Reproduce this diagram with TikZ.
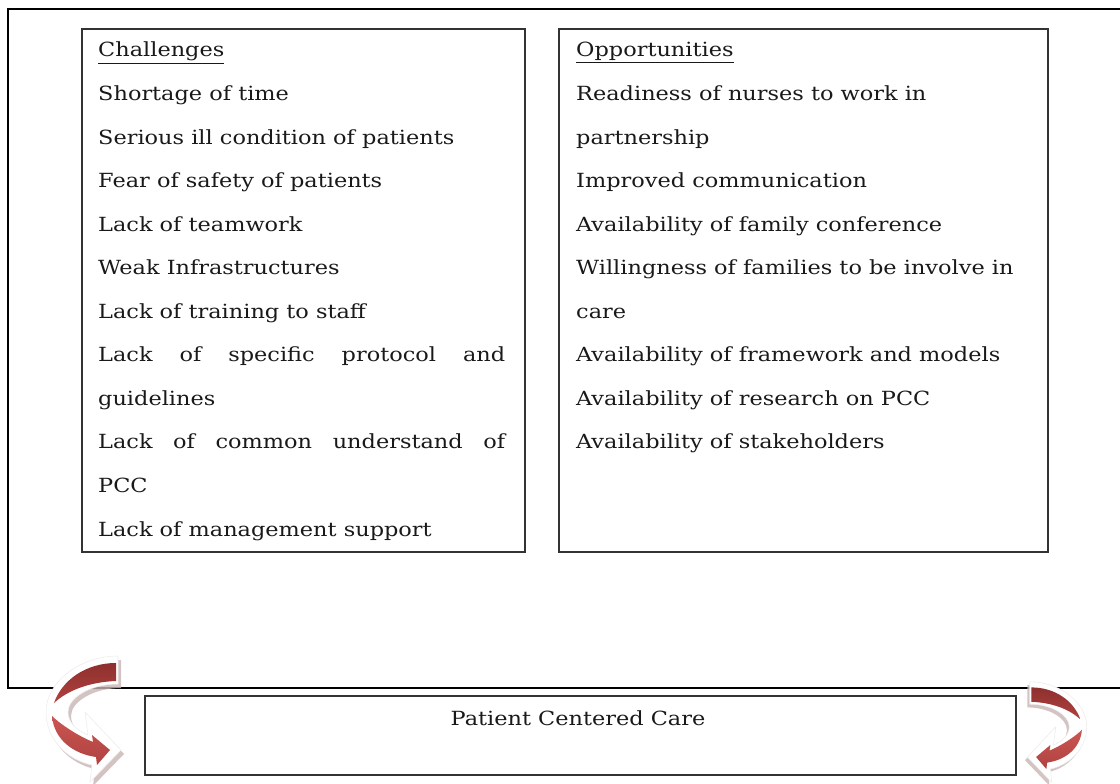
\documentclass[tikz,border=0pt]{standalone}
\usepackage{fontspec}
\setmainfont{DejaVu Serif}[FakeStretch=1.15]
\definecolor{deepred}{HTML}{8E302E}
\definecolor{midred}{HTML}{B0423F}
\definecolor{brightred}{HTML}{CA5653}
\definecolor{shade}{HTML}{C9B4B4}
\begin{document}
\begin{tikzpicture}[x=1pt,y=-1pt,
  frame/.style={draw=black, line width=1.4pt},
  listbox/.style={draw=black!80, line width=1.5pt, inner sep=0pt},
  item/.style={anchor=base west, inner sep=0pt, text=black!90,
    font=\fontsize{19.5}{23}\selectfont},
  shadowfill/.style={fill=shade, opacity=0.8},
  bodyfill/.style={fill=white, draw=white!93!black, line width=0.6pt, line join=round},
  upperband/.style={top color=deepred, bottom color=midred},
  lowerband/.style={top color=brightred, bottom color=midred}
]
\useasboundingbox (0,0) rectangle (1120,784);

% open outer frame, running off the right edge
\draw[frame] (1120,9) -- (8,9) -- (8,688) -- (1120,688);

% the two list boxes and the bottom box
\node[listbox, minimum width=443pt, minimum height=523pt] (chalbox) at (303.5,290.5) {};
\node[listbox, minimum width=489pt, minimum height=523pt] (oppbox) at (803.5,290.5) {};
\node[listbox, minimum width=871pt, minimum height=79pt] (pccbox) at (580.5,735.5) {};
\node[item, anchor=base] (pcc) at (578,725) {Patient Centered Care};

% challenges
\def\lh{43.55}
\node[item] (c0) at (98,57) {\underline{Challenges}};
\node[item] (c1) at (98,57+1*\lh) {Shortage of time};
\node[item] (c2) at (98,57+2*\lh) {Serious ill condition of patients};
\node[item] (c3) at (98,57+3*\lh) {Fear of safety of patients};
\node[item] (c4) at (98,57+4*\lh) {Lack of teamwork};
\node[item] (c5) at (98,57+5*\lh) {Weak Infrastructures};
\node[item] (c6) at (98,57+6*\lh) {Lack of training to staff};
\node[item] (c7) at (98,57+7*\lh) {\makebox[407pt][s]{Lack of specific protocol and}};
\node[item] (c8) at (98,57+8*\lh) {guidelines};
\node[item] (c9) at (98,57+9*\lh) {\makebox[407pt][s]{Lack of common understand of}};
\node[item] (c10) at (98,57+10*\lh) {PCC};
\node[item] (c11) at (98,57+11*\lh) {Lack of management support};

% opportunities
\node[item] (o0) at (576,57) {\underline{Opportunities}};
\node[item] (o1) at (576,57+1*\lh) {Readiness of nurses to work in};
\node[item] (o2) at (576,57+2*\lh) {partnership};
\node[item] (o3) at (576,57+3*\lh) {Improved communication};
\node[item] (o4) at (576,57+4*\lh) {Availability of family conference};
\node[item] (o5) at (576,57+5*\lh) {Willingness of families to be involve in};
\node[item] (o6) at (576,57+6*\lh) {care};
\node[item] (o7) at (576,57+7*\lh) {Availability of framework and models};
\node[item] (o8) at (576,57+8*\lh) {Availability of research on PCC};
\node[item] (o9) at (576,57+9*\lh) {Availability of stakeholders};

% curved ribbon arrow: white body, two red faces of the twisted band
\def\arrowbody{(118,656) .. controls (80,656) and (46,682) .. (46,712)
  .. controls (46,740) and (68,760) .. (92,765) -- (90,782) -- (121,750)
  -- (85,712) -- (88,735) .. controls (76,730) and (68,722) .. (68,712)
  .. controls (68,698) and (90,684) .. (118,684) -- cycle}
\def\arrowupper{(116,663) .. controls (86,663) and (62,680) .. (54,703)
  .. controls (68,690) and (90,682) .. (116,681) -- cycle}
\def\arrowlower{(52,716) .. controls (54,740) and (74,754) .. (96,757)
  -- (97,765) -- (110,750) -- (92,735) -- (93,742)
  .. controls (74,734) and (58,722) .. (52,716) -- cycle}
\newcommand\ribbonarrow{%
  \fill[shadowfill, shift={(3,4)}] \arrowbody;
  \path[bodyfill] \arrowbody;
  \path[upperband] \arrowupper;
  \path[lowerband] \arrowlower;}

\begin{scope}
  \ribbonarrow
\end{scope}
\begin{scope}[shift={(1123,157)}, xscale=-0.79, yscale=0.8]
  \ribbonarrow
\end{scope}
\end{tikzpicture}
\end{document}
